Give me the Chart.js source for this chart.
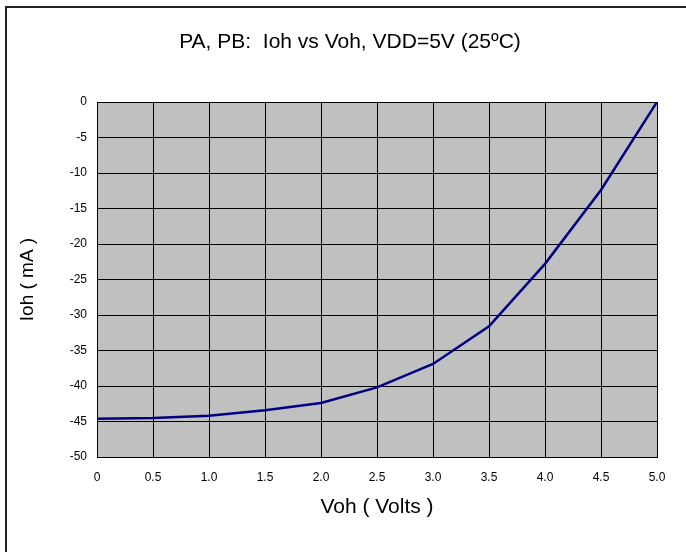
<!DOCTYPE html>
<html>
<head>
<meta charset="utf-8">
<script src="https://cdn.jsdelivr.net/npm/chart.js@4"></script>
<style>
  html, body { margin: 0; padding: 0; background: #ffffff; }
  #wrap { position: relative; width: 686px; height: 552px; }
  #frame { position: absolute; left: 5px; top: 6px; right: -10px; bottom: -10px;
           border-left: 2px solid #222; border-top: 2px solid #222; pointer-events: none; }
  canvas { position: absolute; left: 0; top: 0; }
</style>
</head>
<body>
<div id="wrap">
  <canvas id="c" width="686" height="552"></canvas>
  <div id="frame"></div>
</div>
<script>
const titleText = 'PA, PB:  Ioh vs Voh, VDD=5V (25\u00BAC)';
const xTitle = 'Voh ( Volts )';
const yTitle = 'Ioh ( mA )';
const voh = [0, 0.5, 1.0, 1.5, 2.0, 2.5, 3.0, 3.5, 4.0, 4.5, 5.0];
const ioh = [-44.6, -44.5, -44.2, -43.4, -42.4, -40.2, -36.9, -31.6, -22.8, -12.4, 0];
const yTicks = [0, -5, -10, -15, -20, -25, -30, -35, -40, -45, -50];
const xTicks = ['0', '0.5', '1.0', '1.5', '2.0', '2.5', '3.0', '3.5', '4.0', '4.5', '5.0'];

const FONT = 'Arial, "Liberation Sans", sans-serif';

const plotBg = {
  id: 'plotBg',
  beforeDraw(chart) {
    const {ctx, chartArea: a} = chart;
    ctx.save();
    ctx.fillStyle = '#C0C0C0';
    ctx.fillRect(a.left, a.top, a.right - a.left, a.bottom - a.top);
    ctx.restore();
  }
};

new Chart(document.getElementById('c'), {
  type: 'line',
  data: {
    datasets: [{
      data: voh.map((v, i) => ({x: v, y: ioh[i]})),
      borderColor: '#000080',
      borderWidth: 2.5,
      pointRadius: 0,
      tension: 0,
      fill: false
    }]
  },
  options: {
    responsive: false,
    animation: false,
    devicePixelRatio: 1,
    layout: { padding: { left: 14, right: 0, top: 0, bottom: 0 } },
    plugins: {
      legend: { display: false },
      tooltip: { enabled: false },
      title: {
        display: true,
        text: titleText,
        color: '#000',
        font: { family: FONT, size: 21, weight: 'normal', lineHeight: 1.2 },
        padding: { top: 30, bottom: 46.8 }
      }
    },
    scales: {
      x: {
        type: 'linear',
        min: 0, max: 5,
        afterBuildTicks(scale) { scale.ticks = voh.map(v => ({value: v})); },
        afterFit(scale) { scale.height = 95; },
        ticks: {
          color: '#000',
          font: { family: FONT, size: 12 },
          padding: 13,
          maxRotation: 0,
          autoSkip: false,
          callback: (v, i) => xTicks[i]
        },
        grid: { color: '#000', lineWidth: 1, drawTicks: false },
        border: { color: '#000', width: 1 },
        title: {
          display: true, text: xTitle, color: '#000',
          font: { family: FONT, size: 21, lineHeight: 1.2 },
          padding: { top: 0, bottom: 32 }
        }
      },
      y: {
        type: 'linear',
        position: 'left',
        min: -50, max: 0,
        afterBuildTicks(scale) { scale.ticks = yTicks.map(v => ({value: v})); },
        afterFit(scale) { scale.width = 83; },
        ticks: {
          color: '#000',
          font: { family: FONT, size: 12 },
          padding: 10,
          autoSkip: false,
          callback: (v) => String(v)
        },
        grid: { color: '#000', lineWidth: 1, drawTicks: false },
        border: { color: '#000', width: 1 },
        title: {
          display: true, text: yTitle, color: '#000',
          font: { family: FONT, size: 19, lineHeight: 1.2 },
          padding: { top: 2.6, bottom: 0 }
        }
      },
      yRight: {
        type: 'linear',
        position: 'right',
        display: true,
        min: -50, max: 0,
        afterFit(scale) { scale.width = 29; },
        ticks: { display: false },
        grid: { display: false, drawTicks: false },
        border: { display: false },
        title: { display: false }
      }
    }
  },
  plugins: [plotBg]
});
</script>
</body>
</html>
